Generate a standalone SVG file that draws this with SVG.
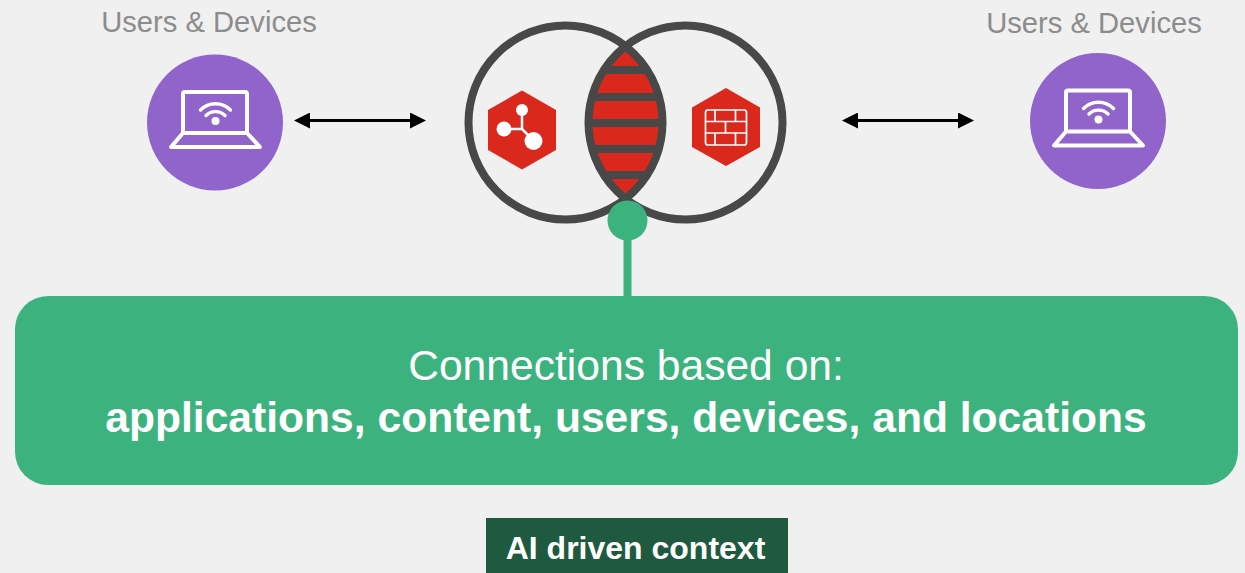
<svg xmlns="http://www.w3.org/2000/svg" width="1245" height="573" viewBox="0 0 1245 573">
<style>
.lbl{font-family:"Liberation Sans",Arial,sans-serif;font-size:29.200px;fill:#8c8c8c;text-anchor:middle}
.wt{font-family:"Liberation Sans",Arial,sans-serif;fill:#fff;text-anchor:middle}
.ring{fill:none;stroke:#484848;stroke-width:8}
.w{fill:none;stroke:#fff;stroke-linecap:round;stroke-linejoin:round}
.arr{stroke:#000;stroke-width:3;fill:none;marker-start:url(#a);marker-end:url(#a)}
</style>
<defs>
<marker id="a" viewBox="0 0 16 16" refX="10" refY="8" markerWidth="16" markerHeight="16" markerUnits="userSpaceOnUse" orient="auto-start-reverse"><path d="M0 0L16 8L0 16Z" fill="#000"/></marker>
<g id="laptop">
<rect x="-32" y="-29" width="64" height="41" rx="2" class="w" stroke-width="4"/>
<path d="M-32 12L-44 26H45L32 12" class="w" stroke-width="4"/>
<path d="M-14.500 -11A21 21 0 0 1 15.500 -11M-9 -5.500A13.500 13.500 0 0 1 10 -5.500" class="w" stroke-width="3.400"/>
<circle cx="0.500" cy="0" r="4" fill="#fff"/>
</g>
<clipPath id="lens"><path d="M625.500 46A97 97 0 0 1 625.500 199A97 97 0 0 1 625.500 46Z"/></clipPath>
</defs>
<rect width="1245" height="573" fill="#f0f0f0"/>
<g id="connectors">
<path class="arr" d="M300 120.500H420"/>
<path class="arr" d="M848 120.500H968"/>
<path d="M627.500 235V297" stroke="#3cb37e" stroke-width="8" fill="none"/>
</g>
<g id="node-users-left">
<text class="lbl" x="209" y="32">Users &amp; Devices</text>
<circle cx="215" cy="122.500" r="68" fill="#9164cc"/>
<use href="#laptop" x="215" y="121"/>
</g>
<g id="node-users-right">
<text class="lbl" x="1094" y="33">Users &amp; Devices</text>
<circle cx="1098" cy="121" r="68" fill="#9164cc"/>
<use href="#laptop" x="1098" y="119.500"/>
</g>
<g id="node-venn">
<path d="M625.500 46A97 97 0 0 1 625.500 199A97 97 0 0 1 625.500 46Z" fill="#da291c"/>
<g clip-path="url(#lens)" fill="#484848">
<rect x="580" y="66" width="90" height="8"/>
<rect x="580" y="93" width="90" height="8"/>
<rect x="580" y="119" width="90" height="8"/>
<rect x="580" y="145" width="90" height="8"/>
<rect x="580" y="171" width="90" height="8"/>
</g>
<circle class="ring" cx="565.500" cy="122.500" r="97"/>
<circle class="ring" cx="685.500" cy="122.500" r="97"/>
</g>
<g id="node-hub">
<path d="M522 90.500L556 110V150L522 169.500L488 150V110Z" fill="#da291c"/>
<path d="M522 110V129H504M522 129L533 140" class="w" stroke-width="2.500"/>
<circle cx="522" cy="110" r="6" fill="#fff"/>
<circle cx="504" cy="129" r="7.500" fill="#fff"/>
<circle cx="533.500" cy="141" r="9" fill="#fff"/>
</g>
<g id="node-firewall">
<path d="M726 88L760 107.500V147L726 166L692 147V107.500Z" fill="#da291c"/>
<rect x="705.500" y="110" width="41" height="35" rx="2.500" class="w" stroke-width="1.700"/>
<path d="M705.500 121.500H746.500M705.500 133H746.500M715 110V121.500M735.500 110V121.500M725.500 121.500V133M715 133V145M735.500 133V145" class="w" stroke-width="1.700"/>
</g>
<g id="node-dot"><circle cx="627.500" cy="220.500" r="20" fill="#3cb37e"/></g>
<g id="node-connections">
<rect x="15" y="296" width="1223" height="189" rx="33" fill="#3cb37e"/>
<text class="wt" x="626" y="380" font-size="42.600">Connections based on:</text>
<text class="wt" x="626" y="432" font-size="42.600" font-weight="700">applications, content, users, devices, and locations</text>
</g>
<g id="node-ai">
<rect x="486" y="518" width="302" height="55" fill="#1f5a40"/>
<text class="wt" x="635.500" y="559" font-size="32" font-weight="700">AI driven context</text>
</g>
</svg>
